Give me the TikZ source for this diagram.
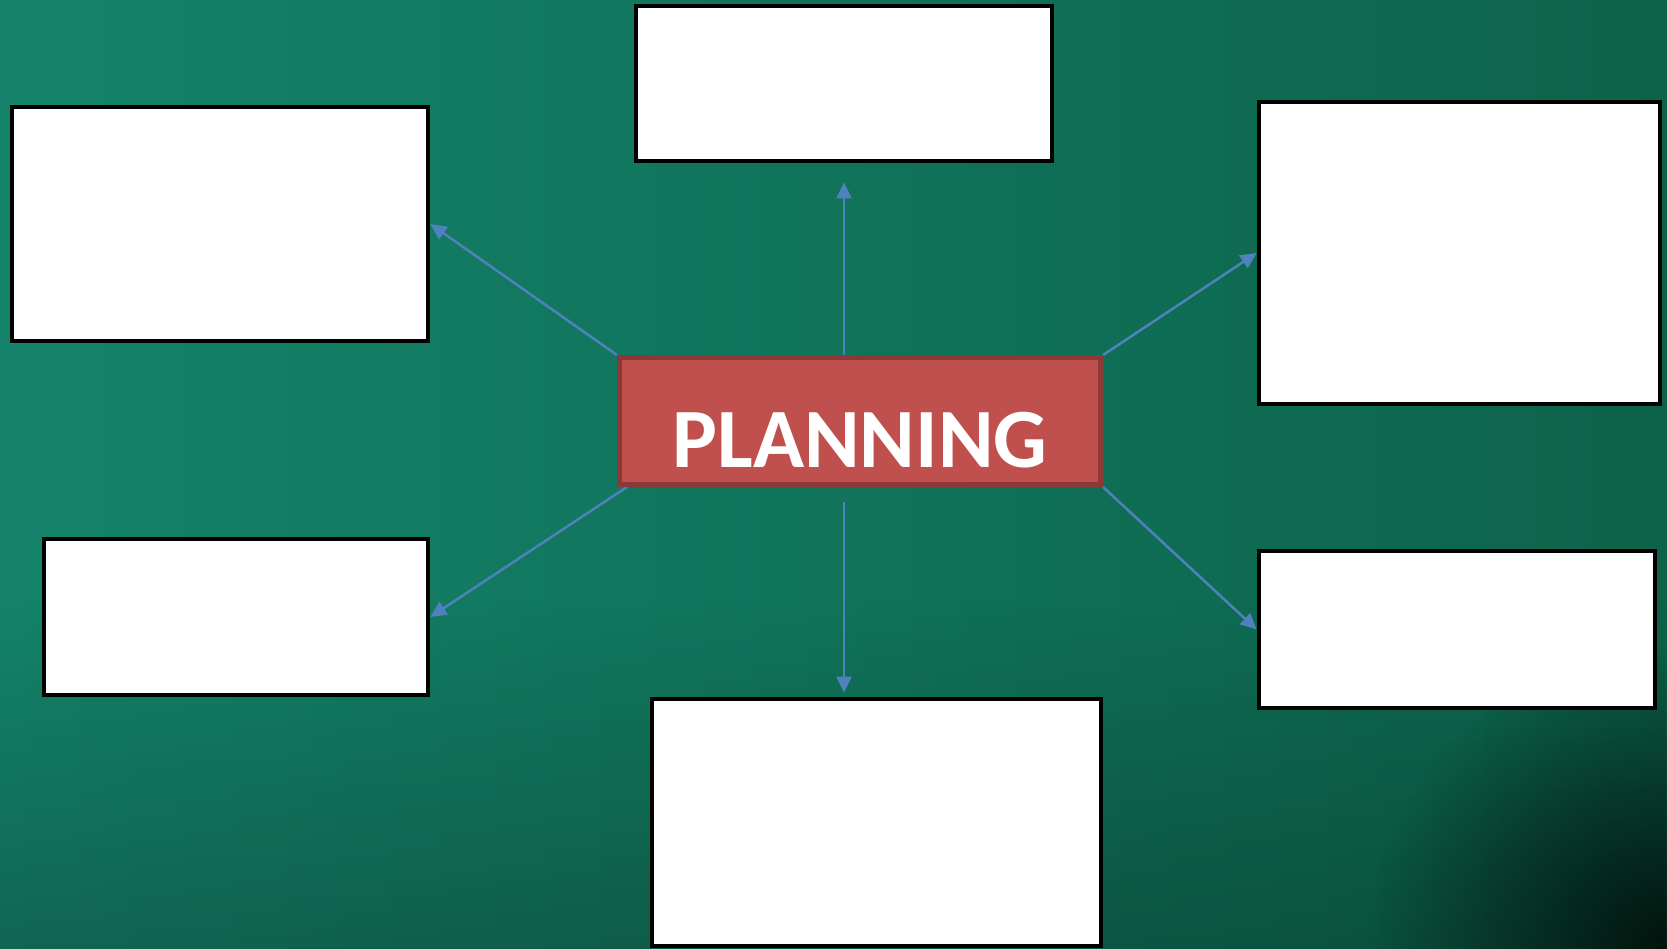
\documentclass[tikz,border=0pt]{standalone}
\usepackage{fontspec}
\setmainfont{Carlito}
\usepackage{tikz}
\usetikzlibrary{arrows.meta,positioning,calc,fadings}
\pgfdeclarelayer{board}
\pgfdeclarelayer{bg}
\pgfsetlayers{board,bg,main}
\definecolor{boardlight}{HTML}{14836A}
\definecolor{boardmid}{HTML}{107457}
\definecolor{boarddark}{HTML}{0C634A}
\definecolor{planfill}{HTML}{C0504D}
\definecolor{planline}{HTML}{8C3836}
\definecolor{linkblue}{HTML}{4F81BD}
\tikzfading[name=sinkdown, top color=transparent!100, bottom color=transparent!0]
\tikzfading[name=cornerdark, inner color=transparent!0, outer color=transparent!100]

\begin{document}
\begin{tikzpicture}[x=0.01cm, y=-0.01cm,
    box/.style={draw=black, fill=white, line width=0.045cm, inner sep=0pt},
    link/.style={draw=linkblue, line width=0.025cm, -{Triangle[length=0.16cm, width=0.15cm]}}]
    \useasboundingbox (0,0) rectangle (1667,949);

    \begin{pgfonlayer}{board}    % the green board behind everything
      \begin{scope}
        \clip (0,0) rectangle (1667,949);
        \shade [left color=boardlight, middle color=boardmid, right color=boarddark] (0,0) rectangle (1667,949);
        \fill [black, opacity=0.22, path fading=sinkdown] (0,600) rectangle (1667,949);
        \fill [black, opacity=0.75, path fading=cornerdark] (1667,949) circle (300);
      \end{scope}
    \end{pgfonlayer}

    \node [box, minimum width=4.16cm, minimum height=1.55cm] (tp) at (844,83.5) {};
    \node [box, minimum width=4.16cm, minimum height=2.34cm] (ul) at (220,224) {};
    \node [box, minimum width=4.01cm, minimum height=3.02cm] (ur) at (1459.5,253) {};
    \node [box, minimum width=3.84cm, minimum height=1.56cm] (ll) at (236,617) {};
    \node [box, minimum width=3.96cm, minimum height=1.57cm] (lr) at (1457,629.5) {};
    \node [box, minimum width=4.49cm, minimum height=2.47cm] (bt) at (876.5,822.5) {};

    \node [fill=planfill, draw=planline, line width=0.05cm, inner sep=0pt,
           minimum width=4.81cm, minimum height=1.27cm, text height=0.92cm, text depth=0cm,
           text=white, font=\fontsize{24}{29}\selectfont\bfseries] (plan) at (860,421) {PLANNING};

    \begin{pgfonlayer}{bg}    % arrows go under the boxes
      \draw [link, shorten >=0.19cm] (plan.north -| tp.south) -- (tp.south);
      \draw [link, shorten <=0.15cm, shorten >=0.04cm] (plan.south -| tp.south) -- (bt.north -| tp.south);
      \draw [link] (plan.north west) -- (ul.east);
      \draw [link] (plan.north east) -- (ur.west);
      \draw [link] ([xshift=0.1cm]plan.south west) -- (ll.east);
      \draw [link] (plan.south east) -- (lr.west);
    \end{pgfonlayer}
  \end{tikzpicture}
\end{document}
